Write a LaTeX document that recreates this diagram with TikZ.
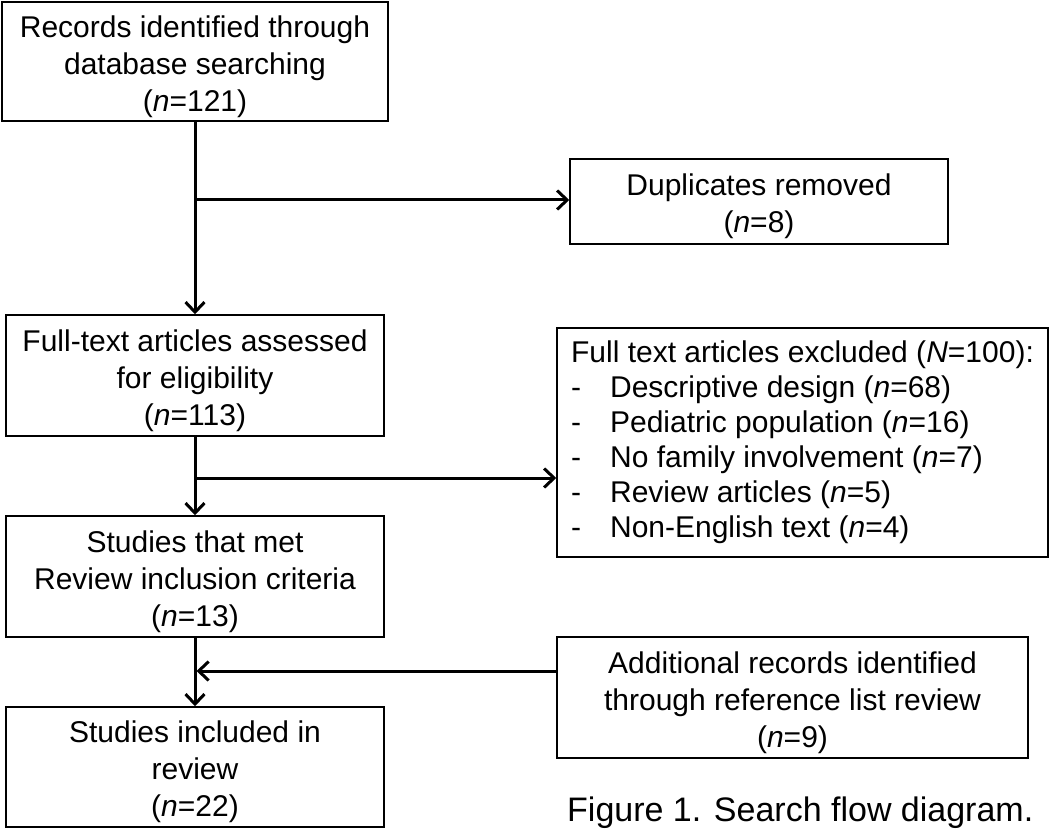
\documentclass[tikz,border=0pt]{standalone}
\usepackage{fontspec}
\setmainfont{Liberation Sans}
\usetikzlibrary{arrows.meta}
\newcommand{\topstrut}{\rule{0pt}{32pt}}
\begin{document}
\begin{tikzpicture}[x=1pt,y=-1pt,
  box/.style={draw, line width=1.5pt, inner sep=0pt, align=center,
    font=\fontsize{30}{37}\selectfont},
  conn/.style={line width=3pt, -{Straight Barb[length=10pt,width=19pt,line width=3pt]}}]
\useasboundingbox (0,0) rectangle (1050,829);

\node[box, minimum width=386pt, minimum height=119pt] (rec) at (195,61.5)
  {\topstrut Records identified through\\database searching\\(\textit{n}=121)};
\node[box, minimum width=378pt, minimum height=85pt] (dup) at (759,201.5)
  {\topstrut Duplicates removed\\(\textit{n}=8)};
\node[box, minimum width=378pt, minimum height=121pt] (full) at (195,375.5)
  {\topstrut Full-text articles assessed\\for eligibility\\(\textit{n}=113)};
\node[box, minimum width=491pt, minimum height=229pt, align=left,
  font=\fontsize{30}{35}\selectfont] (excl) at (802.5,442.5)
  {Full text articles excluded (\textit{N}=100):\\
   \makebox[39pt][l]{-}Descriptive design (\textit{n}=68)\\
   \makebox[39pt][l]{-}Pediatric population (\textit{n}=16)\\
   \makebox[39pt][l]{-}No family involvement (\textit{n}=7)\\
   \makebox[39pt][l]{-}Review articles (\textit{n}=5)\\
   \makebox[39pt][l]{-}Non-English text (\textit{n}=4)};
\node[box, minimum width=378pt, minimum height=121pt] (met) at (195,576.5)
  {\topstrut Studies that met\\Review inclusion criteria\\(\textit{n}=13)};
\node[box, minimum width=471pt, minimum height=121pt] (add) at (792.5,697.5)
  {\topstrut Additional records identified\\through reference list review\\(\textit{n}=9)};
\node[box, minimum width=378pt, minimum height=120pt] (incl) at (195,767)
  {\topstrut Studies included in\\review\\(\textit{n}=22)};
\node[anchor=base west, inner sep=0pt, font=\fontsize{34}{40}\selectfont] (cap)
  at (567,821) {Figure 1. Search flow diagram.};

\coordinate (b1) at (195,200);
\coordinate (b2) at (195,478);
\coordinate (b3) at (196.5,671);

\draw[conn] (rec.south) -- (full.north);
\draw[conn] (b1) -- (b1 -| dup.west);
\draw[conn] (full.south) -- (met.north);
\draw[conn] (b2) -- (b2 -| excl.west);
\draw[conn] (met.south) -- (incl.north);
\draw[conn] (b3 -| add.west) -- (b3);
\end{tikzpicture}
\end{document}
